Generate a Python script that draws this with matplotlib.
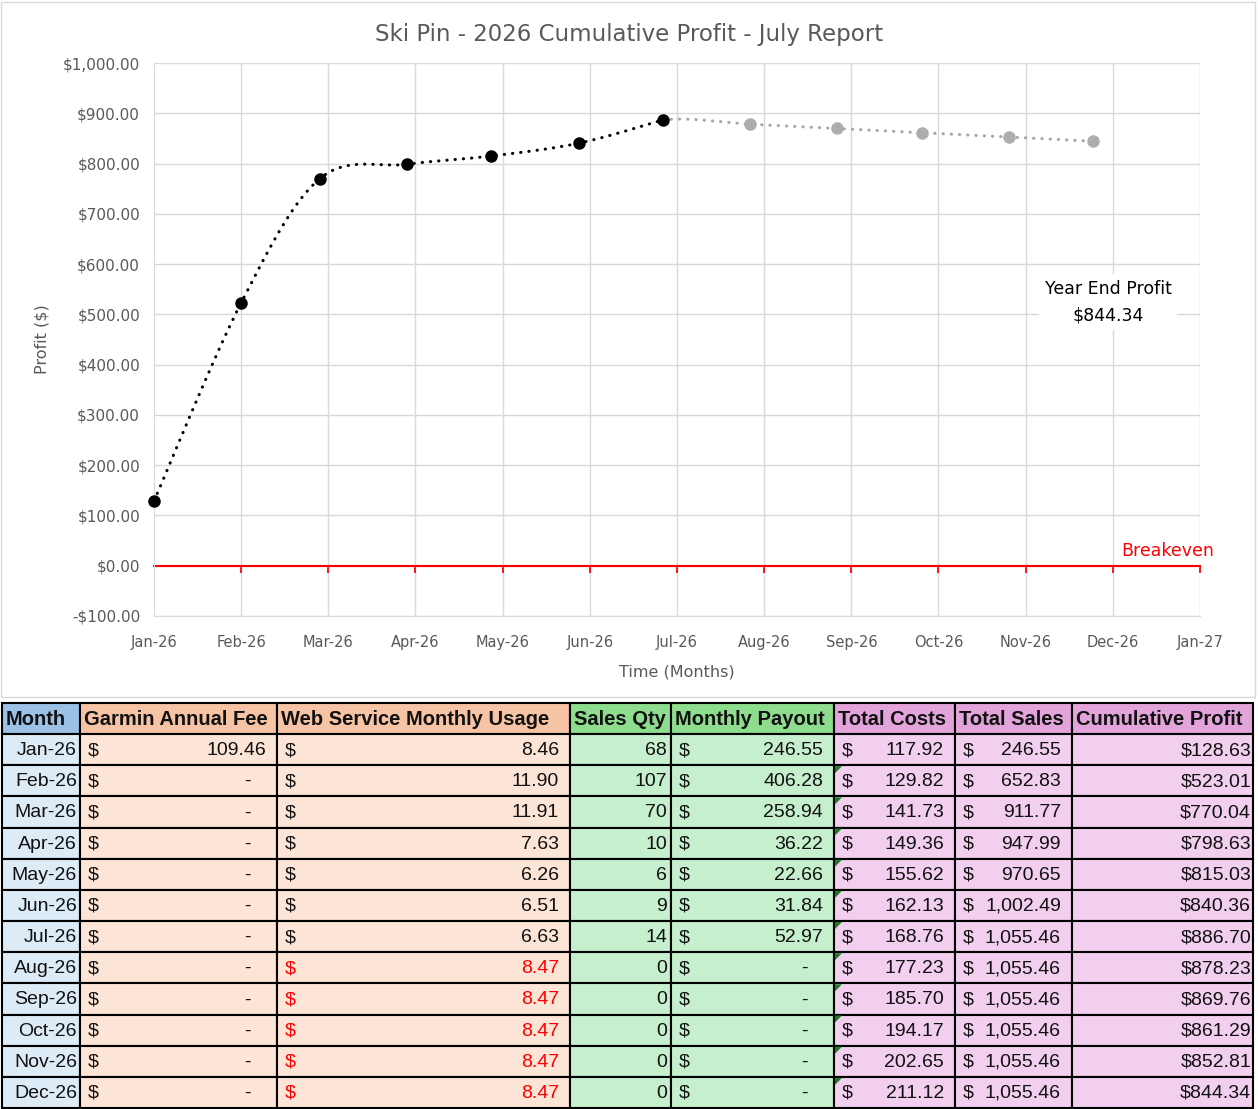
import datetime as dt
import numpy as np
import matplotlib
matplotlib.use("Agg")
import matplotlib.pyplot as plt
import matplotlib.dates as mdates
import matplotlib.transforms as mtransforms
from matplotlib import font_manager as fm
from matplotlib.patches import Rectangle, Polygon
from matplotlib.ticker import FixedLocator, FuncFormatter

# ---- data ----
months = ["Jan-26", "Feb-26", "Mar-26", "Apr-26", "May-26", "Jun-26",
          "Jul-26", "Aug-26", "Sep-26", "Oct-26", "Nov-26", "Dec-26"]
point_dates = [dt.date(2026, m, 1) for m in range(1, 13)]
garmin_fee = [109.46, 0, 0, 0, 0, 0, 0, 0, 0, 0, 0, 0]
web_usage = [8.46, 11.90, 11.91, 7.63, 6.26, 6.51, 6.63, 8.47, 8.47, 8.47, 8.47, 8.47]
sales_qty = [68, 107, 70, 10, 6, 9, 14, 0, 0, 0, 0, 0]
monthly_payout = [246.55, 406.28, 258.94, 36.22, 22.66, 31.84, 52.97, 0, 0, 0, 0, 0]
total_costs = [117.92, 129.82, 141.73, 149.36, 155.62, 162.13, 168.76,
               177.23, 185.70, 194.17, 202.65, 211.12]
total_sales = [246.55, 652.83, 911.77, 947.99, 970.65, 1002.49, 1055.46,
               1055.46, 1055.46, 1055.46, 1055.46, 1055.46]
cum_profit = [128.63, 523.01, 770.04, 798.63, 815.03, 840.36, 886.70,
              878.23, 869.76, 861.29, 852.81, 844.34]
n_actual = 7  # Jan..Jul are actuals, rest projected

headers = ["Month", "Garmin Annual Fee", "Web Service Monthly Usage", "Sales Qty",
           "Monthly Payout", "Total Costs", "Total Sales", "Cumulative Profit"]

W, H = 1258, 1109
GREY_TXT = "#595959"
GRID = "#D9D9D9"
FONT = ["DejaVu Sans"]

# narrow font if there is one, otherwise Liberation Sans a bit smaller
installed = {f.name for f in fm.fontManager.ttflist}
if "Liberation Sans Narrow" in installed:
    TFONT, T_SIZE, H_SIZE = ["Liberation Sans Narrow", "DejaVu Sans"], 16, 16.5
else:
    TFONT, T_SIZE, H_SIZE = ["Liberation Sans", "DejaVu Sans"], 14, 14.5


def smooth(xs, ys, n=40):
    # excel-like smoothed line: cubic bezier per segment, catmull-rom handles
    xs = np.asarray(xs, float)
    ys = np.asarray(ys, float)
    segs = []
    for i in range(len(xs) - 1):
        a = max(i - 1, 0)
        b = min(i + 2, len(xs) - 1)
        p0 = np.array([xs[i], ys[i]])
        p3 = np.array([xs[i + 1], ys[i + 1]])
        c1 = p0 + (p3 - np.array([xs[a], ys[a]])) / 6
        c2 = p3 - (np.array([xs[b], ys[b]]) - p0) / 6
        t = np.linspace(0, 1, n)[:, None]
        pts = (1 - t) ** 3 * p0 + 3 * (1 - t) ** 2 * t * c1 + 3 * (1 - t) * t ** 2 * c2 + t ** 3 * p3
        segs.append(pts)
    return segs


fig = plt.figure(figsize=(W / 100, H / 100), dpi=100)

# chart frame
fig.patches.append(Rectangle((1 / W, 1 - 697 / H), 1254 / W, 695 / H, transform=fig.transFigure,
                             fill=False, edgecolor=GRID, lw=1))

ax = fig.add_axes([154 / W, 1 - 616 / H, (1200 - 154) / W, (616 - 63) / H])

xnum = mdates.date2num(point_dates)
start = mdates.date2num(dt.date(2026, 1, 1))
xticks = [start + 31 * k for k in range(13)]

# projected (grey) curve uses all points, shown from Jul onwards
segs_all = smooth(xnum, cum_profit)
proj = np.vstack(segs_all[n_actual - 1:])
ax.plot(proj[:, 0], proj[:, 1], color="#A6A6A6", lw=2.2, linestyle=(0, (0.1, 2.6)),
        dash_capstyle="round", zorder=3)
ax.plot(xnum[n_actual:], cum_profit[n_actual:], "o", color="#ADADAD", ms=8, zorder=4)

segs_act = smooth(xnum[:n_actual], cum_profit[:n_actual])
act = np.vstack(segs_act)
ax.plot(act[:, 0], act[:, 1], color="black", lw=2.2, linestyle=(0, (0.1, 2.6)),
        dash_capstyle="round", zorder=5)
ax.plot(xnum[:n_actual], cum_profit[:n_actual], "o", color="black", ms=8, zorder=6,
        clip_on=False)

ax.set_xlim(xticks[0], xticks[-1])
ax.set_ylim(-100, 1000)
ax.yaxis.set_major_locator(FixedLocator(np.arange(-100, 1001, 100)))
ax.yaxis.set_major_formatter(FuncFormatter(
    lambda v, p: ("-$" if v < 0 else "$") + f"{abs(v):,.2f}"))
ax.xaxis.set_major_locator(FixedLocator(xticks[1:]))
ax.grid(True, color=GRID, lw=1, zorder=0)
ax.set_axisbelow(True)

for s in ["top", "right"]:
    ax.spines[s].set_visible(False)
ax.spines["left"].set_color(GRID)
ax.spines["bottom"].set_position(("data", 0))
ax.spines["bottom"].set_color("red")
ax.spines["bottom"].set_linewidth(1.5)
ax.spines["bottom"].set_zorder(2)
ax.tick_params(axis="x", direction="out", length=5, width=1.3, color="red", labelbottom=False)
ax.tick_params(axis="y", length=0, pad=10, labelcolor=GREY_TXT, labelsize=11)
for lbl in ax.get_yticklabels():
    lbl.set_family(FONT)

sec = ax.secondary_xaxis("bottom")
sec.xaxis.set_major_locator(FixedLocator(xticks))
sec.xaxis.set_major_formatter(mdates.DateFormatter("%b-%y"))
sec.tick_params(length=0, pad=14, labelcolor=GREY_TXT, labelsize=10.5)
sec.spines["bottom"].set_color(GRID)

fig.text(0.5, 1 - 35 / H, "Ski Pin - 2026 Cumulative Profit - July Report", fontsize=16.5,
         color=GREY_TXT, family=FONT, ha="center", va="center")
ax.set_ylabel("Profit ($)", fontsize=11.5, color=GREY_TXT, family=FONT)
ax.yaxis.set_label_coords(-0.1, 0.5)
sec.set_xlabel("Time (Months)", fontsize=11.5, color=GREY_TXT, family=FONT, labelpad=10)

blend = mtransforms.blended_transform_factory(ax.transAxes, ax.transData)
ax.text(0.9245, 12, "Breakeven", color="red", fontsize=12.5, family=FONT,
        transform=blend, ha="left", va="bottom", clip_on=False)
ax.text(0.912, 0.568, f"Year End Profit\n${cum_profit[-1]:,.2f}", transform=ax.transAxes,
        ha="center", va="center", fontsize=12.5, family=FONT, linespacing=1.6,
        bbox=dict(facecolor="white", edgecolor="none", pad=4), zorder=7)

# ---- table below the chart ----
tax = fig.add_axes([0, 0, 1, 1 - 700 / H])
tax.set_xlim(0, W)
tax.set_ylim(H, 700)
tax.axis("off")

col_edges = [2, 80, 277, 570, 671, 834, 955, 1072, 1253]
hdr_colors = ["#9BC2E6", "#F6C4A4", "#F6C4A4", "#8EDC8E", "#8EDC8E", "#E2A4DA", "#E2A4DA", "#E2A4DA"]
cell_colors = ["#DDEBF7", "#FCE4D6", "#FCE4D6", "#C6EFCE", "#C6EFCE", "#F2CEEF", "#F2CEEF", "#F2CEEF"]
hdr_top, hdr_bot = 703, 734
row_h = (1108 - hdr_bot) / len(months)

for c in range(8):
    x0, x1 = col_edges[c], col_edges[c + 1]
    tax.add_patch(Rectangle((x0, hdr_top), x1 - x0, hdr_bot - hdr_top, facecolor=hdr_colors[c],
                            edgecolor="black", lw=1.5))
    tax.text(x0 + 4, (hdr_top + hdr_bot) / 2 + 1, headers[c], ha="left", va="center",
             fontsize=H_SIZE, fontweight="bold", family=TFONT, color="#111111")


def money(v):
    return f"{v:,.2f}"


for r in range(len(months)):
    y0 = hdr_bot + r * row_h
    yc = y0 + row_h / 2 + 1
    for c in range(8):
        x0, x1 = col_edges[c], col_edges[c + 1]
        tax.add_patch(Rectangle((x0, y0), x1 - x0, row_h, facecolor=cell_colors[c],
                                edgecolor="black", lw=1.5))
    kw = dict(va="center", fontsize=T_SIZE, family=TFONT, color="#111111")
    tax.text(col_edges[1] - 3, yc, months[r], ha="right", **kw)

    # accounting style cells: "$" on the left, value (or dash) on the right
    acct = [(1, garmin_fee[r], "#111111"),
            (2, web_usage[r], "red" if r >= n_actual else "#111111"),
            (4, monthly_payout[r], "#111111"),
            (5, total_costs[r], "#111111"),
            (6, total_sales[r], "#111111")]
    for c, v, colr in acct:
        x0, x1 = col_edges[c], col_edges[c + 1]
        k2 = dict(kw, color=colr)
        tax.text(x0 + 8, yc, "$", ha="left", **k2)
        if v == 0:
            tax.text(x1 - 30, yc, "-", ha="center", **k2)
        else:
            tax.text(x1 - 11, yc, money(v), ha="right", **k2)
    tax.text(col_edges[4] - 4, yc, str(sales_qty[r]), ha="right", **kw)
    tax.text(col_edges[8] - 2, yc, "$" + money(cum_profit[r]), ha="right", **kw)

    if r > 0:
        x0 = col_edges[5]
        tax.add_patch(Polygon([[x0 + 1, y0 + 1], [x0 + 8, y0 + 1], [x0 + 1, y0 + 8]],
                              closed=True, facecolor="#1E7B22", edgecolor="none", zorder=5))

fig.savefig("out.png", dpi=100)
